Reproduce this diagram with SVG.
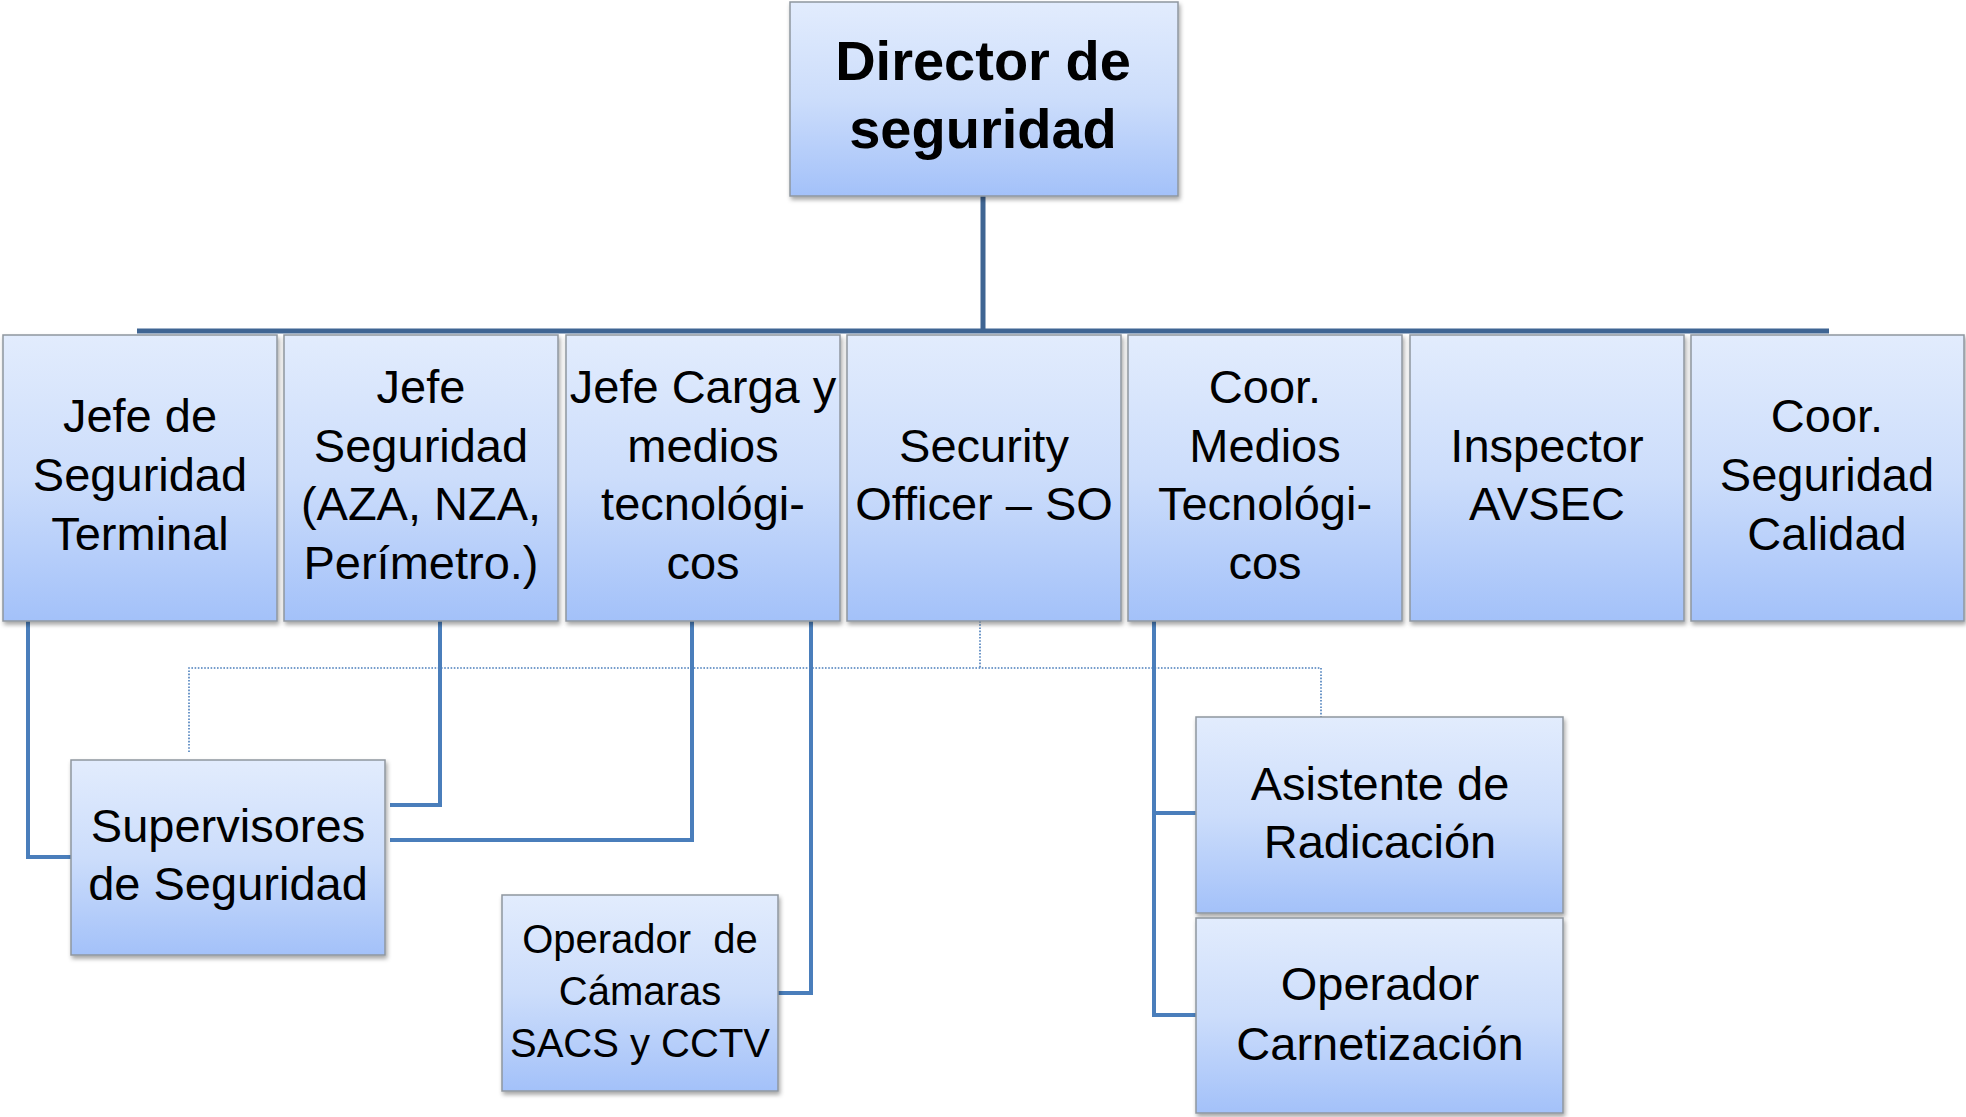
<svg xmlns="http://www.w3.org/2000/svg" width="1966" height="1117" viewBox="0 0 1966 1117">
<style>
.box{fill:url(#g);stroke:#8f969f;stroke-width:1.5;filter:url(#sh)}
.t{font-family:"Liberation Sans",Arial,sans-serif;font-size:47px;fill:#000;text-anchor:middle}
.tb{font-family:"Liberation Sans",Arial,sans-serif;font-size:56px;font-weight:bold;fill:#000;text-anchor:middle}
.ts{font-family:"Liberation Sans",Arial,sans-serif;font-size:40px;fill:#000;text-anchor:middle;white-space:pre}
.top{fill:none;stroke:#3f6593;stroke-width:5}
.sub{fill:none;stroke:#4a7ebb;stroke-width:4}
.dot{fill:none;stroke:#4a7ebb;stroke-width:1.6;stroke-dasharray:1.6 1.6}
</style>
<defs>
<linearGradient id="g" x1="0" y1="0" x2="0" y2="1">
<stop offset="0" stop-color="#e2ecfd"/>
<stop offset="0.5" stop-color="#ccddfb"/>
<stop offset="1" stop-color="#a3c1f9"/>
</linearGradient>
<filter id="sh" x="-5%" y="-5%" width="112%" height="115%">
<feDropShadow dx="1.5" dy="3" stdDeviation="2" flood-color="#000" flood-opacity="0.35"/>
</filter>
</defs>
<rect width="1966" height="1117" fill="#fff"/>
<g id="connectors">
<path class="top" d="M983 196 V331"/>
<path class="top" d="M137 331 H1829"/>
<path class="sub" d="M28 621 V857 H71"/>
<path class="sub" d="M440 621 V805 H390"/>
<path class="sub" d="M692 621 V840 H390"/>
<path class="sub" d="M811 621 V993 H778"/>
<path class="sub" d="M1154 621 V1015 H1196"/>
<path class="sub" d="M1154 813 H1196"/>
<path class="dot" d="M980 621 V668"/>
<path class="dot" d="M189 752 V668 H1321 V717"/>
</g>
<g id="director">
<rect class="box" x="790" y="2" width="388" height="194"/>
<text class="tb" x="983" y="80">Director de</text>
<text class="tb" x="983" y="148">seguridad</text>
</g>
<g id="jefe-terminal">
<rect class="box" x="3" y="335" width="274" height="286"/>
<text class="t" x="140" y="432">Jefe de</text>
<text class="t" x="140" y="491">Seguridad</text>
<text class="t" x="140" y="550">Terminal</text>
</g>
<g id="jefe-seguridad">
<rect class="box" x="284" y="335" width="274" height="286"/>
<text class="t" x="421" y="403">Jefe</text>
<text class="t" x="421" y="462">Seguridad</text>
<text class="t" x="421" y="520">(AZA, NZA,</text>
<text class="t" x="421" y="579">Perímetro.)</text>
</g>
<g id="jefe-carga">
<rect class="box" x="566" y="335" width="274" height="286"/>
<text class="t" x="703" y="403">Jefe Carga y</text>
<text class="t" x="703" y="462">medios</text>
<text class="t" x="703" y="520">tecnológi-</text>
<text class="t" x="703" y="579">cos</text>
</g>
<g id="security-officer">
<rect class="box" x="847" y="335" width="274" height="286"/>
<text class="t" x="984" y="462">Security</text>
<text class="t" x="984" y="520">Officer – SO</text>
</g>
<g id="coor-medios">
<rect class="box" x="1128" y="335" width="274" height="286"/>
<text class="t" x="1265" y="403">Coor.</text>
<text class="t" x="1265" y="462">Medios</text>
<text class="t" x="1265" y="520">Tecnológi-</text>
<text class="t" x="1265" y="579">cos</text>
</g>
<g id="inspector">
<rect class="box" x="1410" y="335" width="274" height="286"/>
<text class="t" x="1547" y="462">Inspector</text>
<text class="t" x="1547" y="520">AVSEC</text>
</g>
<g id="coor-calidad">
<rect class="box" x="1691" y="335" width="273" height="286"/>
<text class="t" x="1827" y="432">Coor.</text>
<text class="t" x="1827" y="491">Seguridad</text>
<text class="t" x="1827" y="550">Calidad</text>
</g>
<g id="supervisores">
<rect class="box" x="71" y="760" width="314" height="195"/>
<text class="t" x="228" y="842">Supervisores</text>
<text class="t" x="228" y="900">de Seguridad</text>
</g>
<g id="operador-camaras">
<rect class="box" x="502" y="895" width="276" height="196"/>
<text class="ts" x="640" y="953">Operador  de</text>
<text class="ts" x="640" y="1005">Cámaras</text>
<text class="ts" x="640" y="1057">SACS y CCTV</text>
</g>
<g id="asistente">
<rect class="box" x="1196" y="717" width="367" height="196"/>
<text class="t" x="1380" y="800">Asistente de</text>
<text class="t" x="1380" y="858">Radicación</text>
</g>
<g id="operador-carnetizacion">
<rect class="box" x="1196" y="918" width="367" height="195"/>
<text class="t" x="1380" y="1000">Operador</text>
<text class="t" x="1380" y="1060">Carnetización</text>
</g>
</svg>
